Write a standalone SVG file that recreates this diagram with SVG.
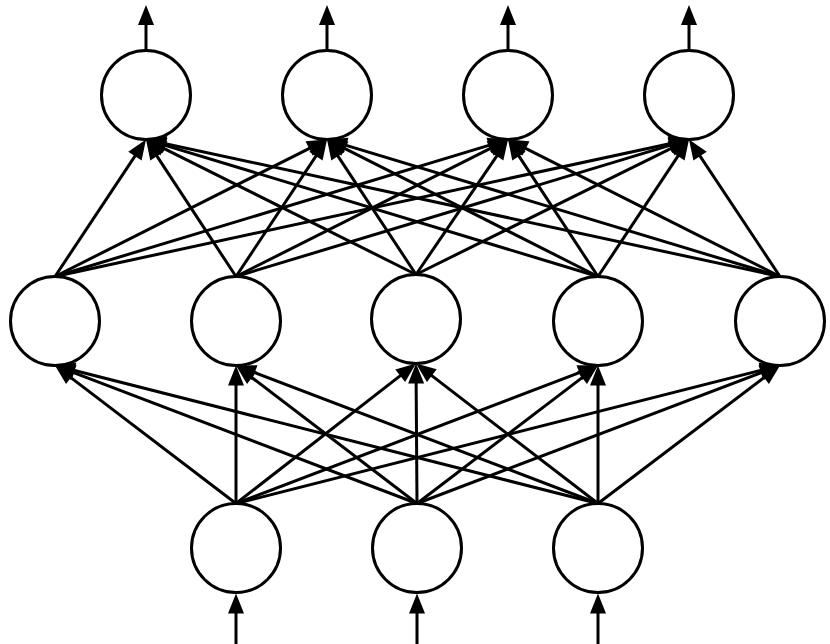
<svg xmlns="http://www.w3.org/2000/svg" width="830" height="644" viewBox="0 0 830 644">
<style>
.node{fill:#fff;stroke:#000;stroke-width:3}
.edge{stroke:#000;stroke-width:3;fill:none;marker-end:url(#ah)}
</style>
<defs>
<marker id="ah" markerUnits="userSpaceOnUse" viewBox="0 -8 20 16" markerWidth="20" markerHeight="16" refX="12" refY="0" orient="auto" overflow="visible">
<path d="M0,-8 L20,0 L0,8 z" fill="#000"/>
</marker>
</defs>
<rect width="830" height="644" fill="#fff"/>
<g id="connectors">
<line class="edge" x1="146" y1="50.5" x2="146" y2="13"/>
<line class="edge" x1="327" y1="50.5" x2="327" y2="13"/>
<line class="edge" x1="508" y1="50.5" x2="508" y2="13"/>
<line class="edge" x1="689" y1="50.5" x2="689" y2="13"/>
<line class="edge" x1="55" y1="276.5" x2="141.57" y2="146.16"/>
<line class="edge" x1="55" y1="276.5" x2="319.86" y2="143.10"/>
<line class="edge" x1="55" y1="276.5" x2="500.34" y2="141.82"/>
<line class="edge" x1="55" y1="276.5" x2="681.18" y2="141.19"/>
<line class="edge" x1="236" y1="276.5" x2="150.39" y2="146.19"/>
<line class="edge" x1="236" y1="276.5" x2="322.57" y2="146.16"/>
<line class="edge" x1="236" y1="276.5" x2="500.86" y2="143.10"/>
<line class="edge" x1="236" y1="276.5" x2="681.34" y2="141.82"/>
<line class="edge" x1="416" y1="274.5" x2="153.16" y2="143.08"/>
<line class="edge" x1="416" y1="274.5" x2="331.40" y2="146.18"/>
<line class="edge" x1="416" y1="274.5" x2="503.50" y2="146.11"/>
<line class="edge" x1="416" y1="274.5" x2="681.83" y2="143.05"/>
<line class="edge" x1="598" y1="276.5" x2="153.66" y2="141.82"/>
<line class="edge" x1="598" y1="276.5" x2="334.14" y2="143.11"/>
<line class="edge" x1="598" y1="276.5" x2="512.39" y2="146.19"/>
<line class="edge" x1="598" y1="276.5" x2="684.57" y2="146.16"/>
<line class="edge" x1="780" y1="276.5" x2="153.82" y2="141.19"/>
<line class="edge" x1="780" y1="276.5" x2="334.66" y2="141.82"/>
<line class="edge" x1="780" y1="276.5" x2="515.15" y2="143.10"/>
<line class="edge" x1="780" y1="276.5" x2="693.43" y2="146.16"/>
<line class="edge" x1="236" y1="503.5" x2="61.36" y2="370.35"/>
<line class="edge" x1="236" y1="503.5" x2="236" y2="373.5"/>
<line class="edge" x1="236" y1="503.5" x2="409.69" y2="368.41"/>
<line class="edge" x1="236" y1="503.5" x2="590.52" y2="368.35"/>
<line class="edge" x1="236" y1="503.5" x2="772.25" y2="367.47"/>
<line class="edge" x1="417" y1="503.5" x2="62.48" y2="368.35"/>
<line class="edge" x1="417" y1="503.5" x2="242.36" y2="370.35"/>
<line class="edge" x1="417" y1="503.5" x2="416.06" y2="371.5"/>
<line class="edge" x1="417" y1="503.5" x2="591.64" y2="370.35"/>
<line class="edge" x1="417" y1="503.5" x2="772.52" y2="368.34"/>
<line class="edge" x1="598" y1="503.5" x2="62.75" y2="367.47"/>
<line class="edge" x1="598" y1="503.5" x2="243.48" y2="368.35"/>
<line class="edge" x1="598" y1="503.5" x2="422.34" y2="368.38"/>
<line class="edge" x1="598" y1="503.5" x2="598" y2="373.5"/>
<line class="edge" x1="598" y1="503.5" x2="773.63" y2="370.33"/>
<line class="edge" x1="236" y1="644" x2="236" y2="601.5"/>
<line class="edge" x1="417" y1="644" x2="417" y2="601.5"/>
<line class="edge" x1="598" y1="644" x2="598" y2="601.5"/>
</g>
<g id="out1"><circle class="node" cx="146" cy="95" r="44.5"/></g>
<g id="out2"><circle class="node" cx="327" cy="95" r="44.5"/></g>
<g id="out3"><circle class="node" cx="508" cy="95" r="44.5"/></g>
<g id="out4"><circle class="node" cx="689" cy="95" r="44.5"/></g>
<g id="hid1"><circle class="node" cx="55" cy="321" r="44.5"/></g>
<g id="hid2"><circle class="node" cx="236" cy="321" r="44.5"/></g>
<g id="hid3"><circle class="node" cx="416" cy="319" r="44.5"/></g>
<g id="hid4"><circle class="node" cx="598" cy="321" r="44.5"/></g>
<g id="hid5"><circle class="node" cx="780" cy="321" r="44.5"/></g>
<g id="in1"><circle class="node" cx="236" cy="548" r="44.5"/></g>
<g id="in2"><circle class="node" cx="417" cy="548" r="44.5"/></g>
<g id="in3"><circle class="node" cx="598" cy="548" r="44.5"/></g>
</svg>
